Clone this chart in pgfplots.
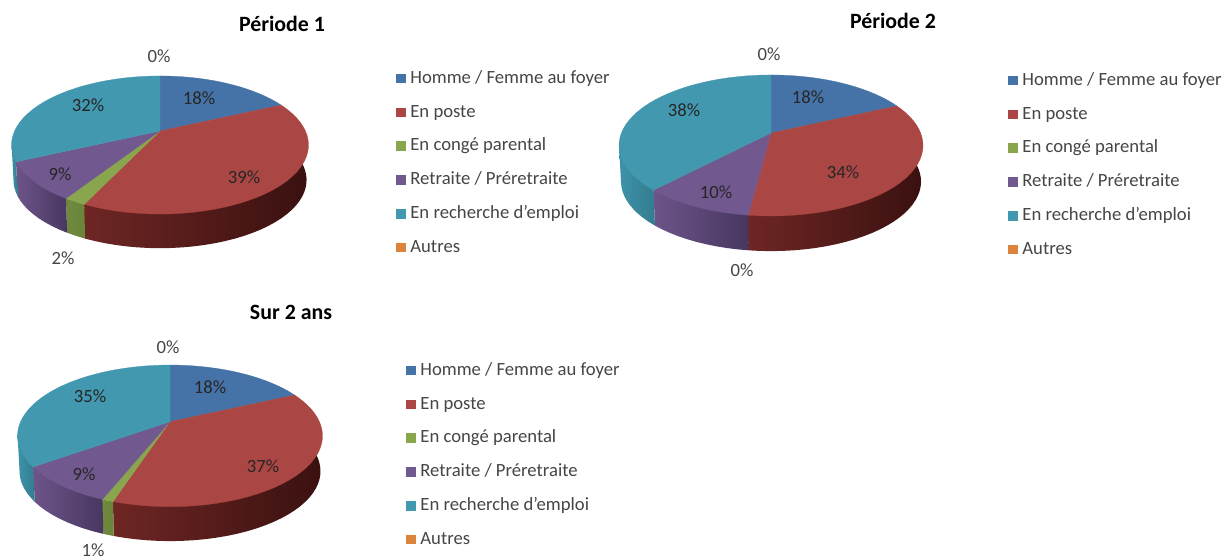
\documentclass[border=0pt]{standalone}
\usepackage{pgfplots}
\usepackage{fontspec}
\setmainfont{Carlito}
\pgfplotsset{compat=1.18}
\usepackage{pgfplotstable}
\definecolor{cBlue}{HTML}{4572A7}
\definecolor{cRed}{HTML}{AA4643}
\definecolor{cGreen}{HTML}{89A54E}
\definecolor{cPurple}{HTML}{71588F}
\definecolor{cTeal}{HTML}{4198AF}
\definecolor{cOrange}{HTML}{DB843D}
\definecolor{redL}{HTML}{6E2624}
\definecolor{redR}{HTML}{3A1110}
\definecolor{greenL}{HTML}{6F8A3E}
\definecolor{greenR}{HTML}{6A8439}
\definecolor{purL}{HTML}{6D5489}
\definecolor{purR}{HTML}{473760}
\definecolor{tealL}{HTML}{3E93A8}
\definecolor{tealR}{HTML}{337C90}
\definecolor{txt}{HTML}{454545}
\definecolor{lab}{HTML}{262626}
% unit circle, one row per 1 % of the pie, clockwise from the top
\pgfplotstableread{
i u v
0 0 1
1 .06279 .99803
2 .12533 .99211
3 .18738 .98229
4 .24869 .96858
5 .30902 .95106
6 .36812 .92978
7 .42578 .90483
8 .48175 .87631
9 .53583 .84433
10 .58779 .80902
11 .63742 .77051
12 .68455 .72897
13 .72897 .68455
14 .77051 .63742
15 .80902 .58779
16 .84433 .53583
17 .87631 .48175
18 .90483 .42578
19 .92978 .36812
20 .95106 .30902
21 .96858 .24869
22 .98229 .18738
23 .99211 .12533
24 .99803 .06279
25 1 0
26 .99803 -.06279
27 .99211 -.12533
28 .98229 -.18738
29 .96858 -.24869
30 .95106 -.30902
31 .92978 -.36812
32 .90483 -.42578
33 .87631 -.48175
34 .84433 -.53583
35 .80902 -.58779
36 .77051 -.63742
37 .72897 -.68455
38 .68455 -.72897
39 .63742 -.77051
40 .58779 -.80902
41 .53583 -.84433
42 .48175 -.87631
43 .42578 -.90483
44 .36812 -.92978
45 .30902 -.95106
46 .24869 -.96858
47 .18738 -.98229
48 .12533 -.99211
49 .06279 -.99803
50 0 -1
51 -.06279 -.99803
52 -.12533 -.99211
53 -.18738 -.98229
54 -.24869 -.96858
55 -.30902 -.95106
56 -.36812 -.92978
57 -.42578 -.90483
58 -.48175 -.87631
59 -.53583 -.84433
60 -.58779 -.80902
61 -.63742 -.77051
62 -.68455 -.72897
63 -.72897 -.68455
64 -.77051 -.63742
65 -.80902 -.58779
66 -.84433 -.53583
67 -.87631 -.48175
68 -.90483 -.42578
69 -.92978 -.36812
70 -.95106 -.30902
71 -.96858 -.24869
72 -.98229 -.18738
73 -.99211 -.12533
74 -.99803 -.06279
75 -1 0
76 -.99803 .06279
77 -.99211 .12533
78 -.98229 .18738
79 -.96858 .24869
80 -.95106 .30902
81 -.92978 .36812
82 -.90483 .42578
83 -.87631 .48175
84 -.84433 .53583
85 -.80902 .58779
86 -.77051 .63742
87 -.72897 .68455
88 -.68455 .72897
89 -.63742 .77051
90 -.58779 .80902
91 -.53583 .84433
92 -.48175 .87631
93 -.42578 .90483
94 -.36812 .92978
95 -.30902 .95106
96 -.24869 .96858
97 -.18738 .98229
98 -.12533 .99211
99 -.06279 .99803
100 0 1
}\unitcircle
% pie geometry: centre, horizontal radius, vertical radius, perspective, wall depth
\newcommand\setpie[6]{\def\cx{#1}\def\cy{#2}\def\A{#3}\def\C{#4}\def\K{#5}\def\D{#6}}
\def\S{0.987}
\newcommand\getrow[3]{%
  \pgfplotstablegetelem{#1}{u}\of\unitcircle\let\tu\pgfplotsretval
  \pgfplotstablegetelem{#1}{v}\of\unitcircle\let\tv\pgfplotsretval
  \pgfmathsetmacro#2{\cx+\A*\tu/(1+\K*\tv)}%
  \pgfmathsetmacro#3{\cy-\C*\tv/(1+\K*\tv)}%
}
% top sector: from percent #1 to percent #2
\newcommand\topwedge[3]{%
  \pgfmathtruncatemacro\bp{#2+1}%
  \edef\next{\noexpand\addplot[forget plot,fill=#3,draw=#3,line width=0.2pt,
     skip coords between index={0}{#1},skip coords between index={\bp}{102}]
     table[x expr=\cx+\A*\noexpand\thisrow{u}/(1+\K*\noexpand\thisrow{v}),
           y expr=\cy-\C*\noexpand\thisrow{v}/(1+\K*\noexpand\thisrow{v})]
     {\noexpand\unitcircle} -- (axis cs:\cx,\cy) -- cycle;}%
  \next}
% wall under the rim
\newcommand\sidewedge[4]{%
  \pgfmathtruncatemacro\bp{#2+1}%
  \getrow{#1}\xa\ya \getrow{#2}\xb\yb
  \edef\next{\noexpand\addplot[forget plot,draw=none,left color=#3,right color=#4,
     skip coords between index={0}{#1},skip coords between index={\bp}{102}]
     table[x expr=\cx+\S*\A*\noexpand\thisrow{u}/(1+\K*\noexpand\thisrow{v}),
           y expr=\cy+\D-\S*\C*\noexpand\thisrow{v}/(1+\K*\noexpand\thisrow{v})]
     {\noexpand\unitcircle} -- (axis cs:\xb,\yb) -- (axis cs:\xa,\ya) -- cycle;}%
  \next}
\pgfplotsset{
  canvas/.style={
    scale only axis,width=918pt,height=420pt,at={(0,0)},anchor=south west,
    xmin=0,xmax=1224,ymin=0,ymax=560,y dir=reverse,hide axis,clip=false,
    legend image code/.code={\fill[##1,draw=none] (0pt,-3.6pt) rectangle (7.4pt,3.6pt);},
    legend cell align=left,
    legend style={draw=none,fill=none,anchor=north west,inner sep=0pt,outer sep=0pt,
      row sep=12.35pt,column sep=3.4pt,font=\fontsize{14}{16}\selectfont\color{txt},
      nodes={inner sep=0pt,text height=10pt,text depth=3pt}},
  }}
\newcommand\legendall{%
  \addlegendimage{fill=cBlue}\addlegendentry{Homme / Femme au foyer}
  \addlegendimage{fill=cRed}\addlegendentry{En poste}
  \addlegendimage{fill=cGreen}\addlegendentry{En congé parental}
  \addlegendimage{fill=cPurple}\addlegendentry{Retraite / Préretraite}
  \addlegendimage{fill=cTeal}\addlegendentry{En recherche d'emploi}
  \addlegendimage{fill=cOrange}\addlegendentry{Autres}}
\newcommand\inlab[3]{\node[inner sep=0pt,font=\fontsize{14}{16}\selectfont,text=lab] at (axis cs:#1,#2) {#3};}
\newcommand\outlab[3]{\node[inner sep=0pt,font=\fontsize{14}{16}\selectfont,text=txt] at (axis cs:#1,#2) {#3};}
\newcommand\ttl[3]{\node[inner sep=0pt,font=\fontsize{16.4}{18}\selectfont\bfseries,text=black] at (axis cs:#1,#2) {#3};}
\begin{document}
\begin{tikzpicture}
\path[use as bounding box] (0,0) rectangle (918pt,420pt);
% Periode 1
\begin{axis}[canvas,legend style={at={(396/1224,{1-70/560})}}]
\setpie{160}{131}{145.4}{66.2}{0.203}{35.2}
\legendall
\sidewedge{18}{57}{redL}{redR}
\sidewedge{57}{59}{greenL}{greenR}
\sidewedge{59}{68}{purL}{purR}
\sidewedge{68}{72}{tealL}{tealR}
\topwedge{0}{18}{cBlue}
\topwedge{18}{57}{cRed}
\topwedge{57}{59}{cGreen}
\topwedge{59}{68}{cPurple}
\topwedge{68}{100}{cTeal}
\ttl{282}{24}{Période 1}
\outlab{159}{56}{0\%}
\inlab{199}{98}{18\%}
\inlab{244}{177}{39\%}
\outlab{63}{258}{2\%}
\inlab{60}{174}{9\%}
\inlab{88}{105}{32\%}
\end{axis}
% Periode 2
\begin{axis}[canvas,legend style={at={(1008/1224,{1-72/560})}}]
\setpie{771}{133}{149.6}{68.3}{0.177}{36.2}
\legendall
\sidewedge{18}{52}{redL}{redR}
\sidewedge{52}{62}{purL}{purR}
\sidewedge{62}{72}{tealL}{tealR}
\topwedge{0}{18}{cBlue}
\topwedge{18}{52}{cRed}
\topwedge{52}{62}{cPurple}
\topwedge{62}{100}{cTeal}
\ttl{893}{21}{Période 2}
\outlab{769}{54}{0\%}
\inlab{808}{97}{18\%}
\inlab{843}{172}{34\%}
\outlab{742}{270}{0\%}
\inlab{716}{192}{10\%}
\inlab{684}{110}{38\%}
\end{axis}
% Sur 2 ans
\begin{axis}[canvas,legend style={at={(406/1224,{1-362/560})}}]
\setpie{170}{421.7}{149.4}{68}{0.2}{35.5}
\legendall
\sidewedge{18}{55}{redL}{redR}
\sidewedge{55}{56}{greenL}{greenR}
\sidewedge{56}{65}{purL}{purR}
\sidewedge{65}{72}{tealL}{tealR}
\topwedge{0}{18}{cBlue}
\topwedge{18}{55}{cRed}
\topwedge{55}{56}{cGreen}
\topwedge{56}{65}{cPurple}
\topwedge{65}{100}{cTeal}
\ttl{291}{312}{Sur 2 ans}
\outlab{168}{347}{0\%}
\inlab{210}{387}{18\%}
\inlab{263}{466}{37\%}
\outlab{93}{550}{1\%}
\inlab{84}{474}{9\%}
\inlab{90}{396}{35\%}
\end{axis}
\end{tikzpicture}
\end{document}
